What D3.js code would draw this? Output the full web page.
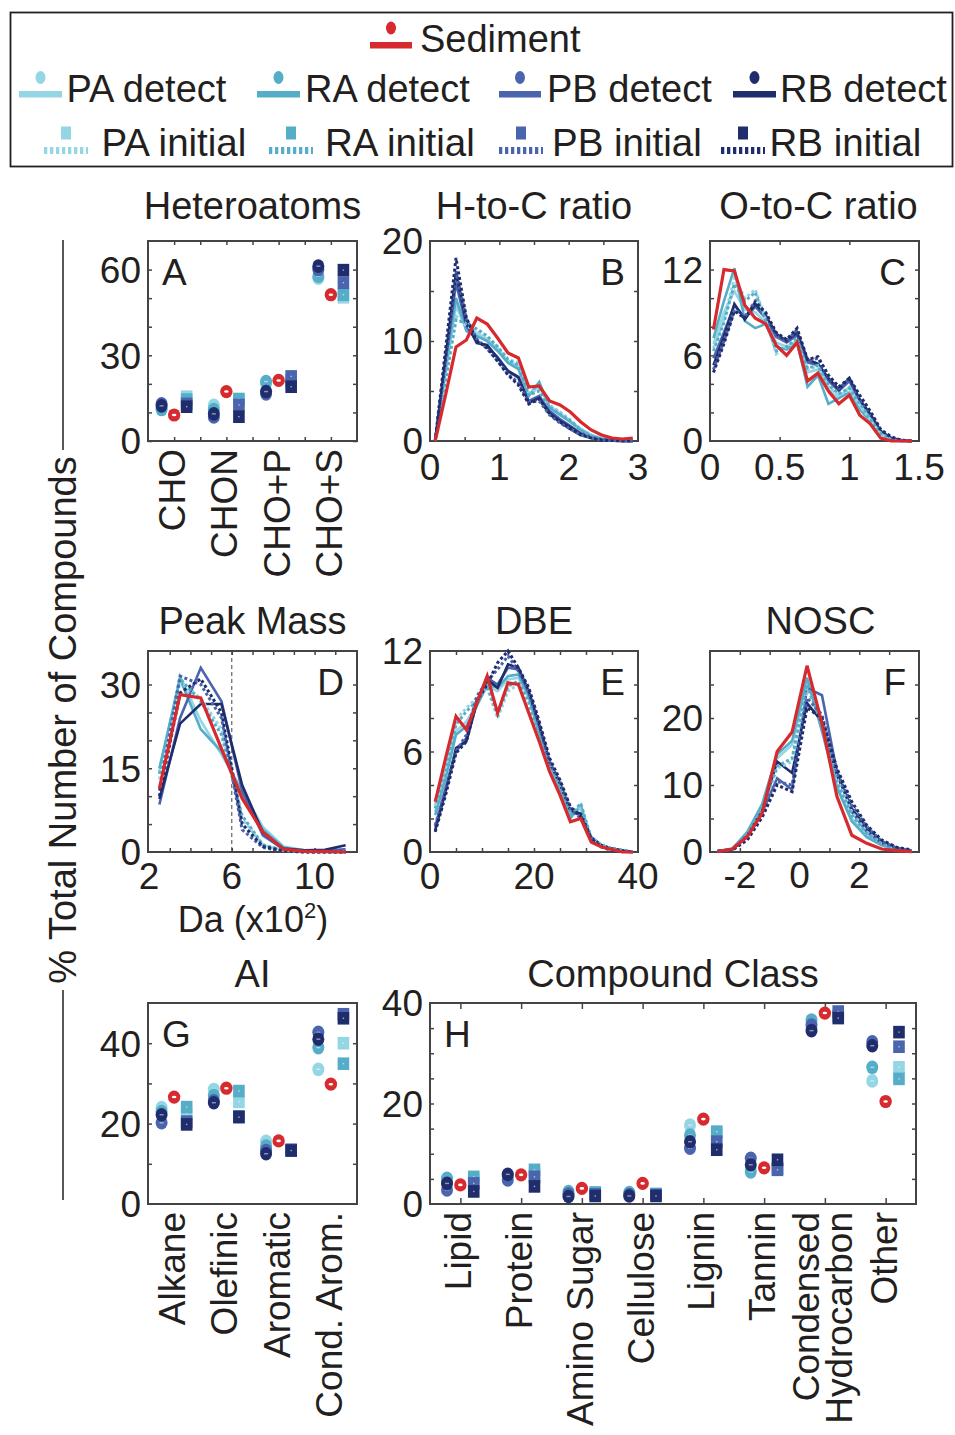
<!DOCTYPE html>
<html>
<head>
<meta charset="utf-8">
<script src="https://cdn.jsdelivr.net/npm/d3@7"></script>
<style>
  body { margin: 0; background: #fff; }
  svg { display: block; font-family: "Liberation Sans", Arial, Helvetica, sans-serif; }
</style>
</head>
<body>
<svg id="fig" width="955" height="1435"></svg>
<script>
// ---- data ----
// series order in every detect/initial list: PA, RA, PB, RB

const hetCats = ["CHO", "CHON", "CHO+P", "CHO+S"];
const hetSediment = [9.1, 17.3, 21.2, 51.2];
const hetDetect = [
  [11.5, 12.5, 20.0, 57.0],
  [11.0, 11.0, 20.8, 57.7],
  [13.0, 8.4, 16.5, 60.0],
  [12.3, 9.5, 17.3, 61.2]
];
const hetInitial = [
  [15.5, 14.0, 21.0, 50.3],
  [14.5, 14.7, 21.0, 51.2],
  [13.0, 12.6, 22.6, 55.4],
  [12.0, 8.5, 19.0, 59.8]
];

const hcBins = [0.075, 0.225, 0.375, 0.525, 0.675, 0.825, 0.975, 1.125, 1.275, 1.425,
  1.575, 1.725, 1.875, 2.025, 2.175, 2.325, 2.475, 2.625, 2.775, 2.925];
const hcSediment = [0, 4.6, 9.4, 10.1, 12.3, 11.7, 10.3, 8.8, 8.3, 5.4, 5.5, 4.0, 3.6, 2.9, 1.9, 1.1, 0.6, 0.3, 0.2, 0.3];
const hcDetect = [
  [0, 6.8, 13.5, 11.2, 10.8, 10.2, 9.3, 8.0, 7.5, 4.6, 5.5, 3.5, 2.8, 2.0, 1.2, 0.6, 0.3, 0.1, 0.05, 0],
  [0, 7.2, 14.3, 11.0, 10.5, 10.0, 9.0, 7.8, 7.2, 4.5, 5.9, 3.3, 2.6, 1.9, 1.1, 0.5, 0.2, 0.1, 0.05, 0],
  [0, 7.9, 15.8, 11.5, 10.0, 9.4, 8.4, 7.0, 6.3, 4.0, 4.5, 3.0, 2.2, 1.5, 0.8, 0.4, 0.2, 0.1, 0.05, 0],
  [0, 8.4, 16.8, 11.8, 9.8, 9.6, 8.3, 7.0, 6.4, 3.8, 4.3, 2.8, 2.0, 1.4, 0.7, 0.3, 0.1, 0.05, 0, 0]
];
const hcInitial = [
  [0, 6.2, 12.5, 11.5, 11.0, 10.4, 9.5, 8.2, 7.8, 4.8, 5.2, 3.6, 2.9, 2.1, 1.2, 0.6, 0.3, 0.1, 0.05, 0],
  [0, 6.0, 12.1, 11.8, 11.2, 10.5, 9.4, 8.1, 7.6, 4.6, 5.0, 3.4, 2.7, 2.0, 1.1, 0.5, 0.2, 0.1, 0.05, 0],
  [0, 8.5, 17.0, 12.2, 10.2, 9.2, 8.0, 6.7, 5.8, 3.9, 4.0, 2.6, 1.8, 1.2, 0.6, 0.3, 0.1, 0.05, 0, 0],
  [0, 9.2, 18.3, 12.3, 10.0, 9.3, 8.0, 6.6, 5.6, 3.7, 4.2, 2.7, 1.9, 1.2, 0.6, 0.3, 0.1, 0.05, 0, 0]
];

const ocBins = [0.025, 0.1, 0.175, 0.25, 0.325, 0.4, 0.475, 0.55, 0.625, 0.7,
  0.775, 0.85, 0.925, 1.0, 1.075, 1.15, 1.225, 1.3, 1.375, 1.45];
const ocSediment = [7.8, 12.0, 11.9, 9.5, 8.6, 8.2, 6.7, 6.0, 6.9, 4.2, 4.75, 3.5, 2.6, 3.2, 1.8, 1.2, 0.2, 0, 0, 0];
const ocDetect = [
  [6.8, 9.0, 10.5, 9.2, 9.0, 8.3, 6.9, 6.6, 7.0, 4.8, 5.0, 3.6, 3.0, 3.8, 2.6, 1.6, 0.6, 0.2, 0.05, 0],
  [7.2, 9.8, 12.1, 8.4, 7.9, 8.2, 6.6, 6.4, 6.9, 3.8, 4.6, 2.6, 3.0, 3.4, 2.2, 1.4, 0.5, 0.1, 0, 0],
  [5.8, 7.6, 9.5, 8.6, 9.4, 8.6, 7.3, 6.9, 7.4, 5.5, 5.3, 4.2, 3.5, 4.2, 2.8, 1.8, 0.7, 0.2, 0.05, 0],
  [5.3, 7.3, 9.6, 8.5, 9.6, 8.8, 7.5, 7.0, 7.6, 5.7, 5.4, 4.4, 3.6, 4.4, 2.9, 1.9, 0.7, 0.2, 0.05, 0]
];
const ocInitial = [
  [6.5, 8.5, 11.4, 10.0, 10.6, 8.5, 6.1, 6.6, 7.0, 5.0, 5.2, 3.8, 3.2, 3.6, 2.5, 1.5, 0.5, 0.1, 0, 0],
  [6.3, 8.3, 11.0, 9.8, 10.4, 8.4, 6.3, 6.6, 7.2, 5.1, 5.3, 3.9, 3.3, 3.7, 2.6, 1.6, 0.6, 0.1, 0, 0],
  [5.0, 7.0, 9.2, 8.7, 9.8, 8.9, 7.4, 7.0, 7.8, 5.6, 5.8, 4.5, 3.7, 4.3, 3.0, 2.0, 0.8, 0.2, 0.05, 0],
  [4.8, 6.8, 9.1, 8.6, 9.7, 9.0, 7.6, 7.1, 7.9, 5.7, 5.9, 4.6, 3.8, 4.4, 3.2, 2.1, 0.8, 0.3, 0.05, 0]
];

const massBins = [2.5, 3.5, 4.5, 5.5, 6.5, 7.5, 8.5, 9.5, 10.5, 11.5];
const massSediment = [11.4, 28.2, 27.6, 18.5, 9.6, 3.6, 0.5, 0.1, 0.1, 0];
const massDetect = [
  [14.5, 31.5, 23.5, 17.5, 11.0, 4.5, 1.0, 0.3, 0.2, 0.1],
  [15.0, 31.0, 22.0, 18.0, 10.5, 4.0, 0.8, 0.3, 0.2, 0.1],
  [8.5, 24.0, 33.0, 27.0, 11.0, 3.0, 0.5, 0.2, 0.3, 0.5],
  [9.5, 23.0, 26.5, 26.5, 12.0, 3.5, 0.6, 0.3, 0.4, 1.2]
];
const massInitial = [
  [13.0, 30.5, 27.5, 22.0, 6.0, 1.2, 0.3, 0.1, 0, 0],
  [14.0, 31.0, 27.0, 21.0, 6.5, 1.3, 0.3, 0.1, 0, 0],
  [11.0, 31.5, 30.0, 24.0, 4.0, 0.8, 0.2, 0, 0, 0],
  [10.0, 28.5, 31.0, 25.0, 5.0, 1.0, 0.2, 0, 0, 0]
];

const dbeBins = [1, 3, 5, 7, 9, 11, 13, 15, 17, 19, 21, 23, 25, 27, 29, 31, 33, 35, 37, 39];
const dbeSediment = [3.0, 5.6, 8.1, 7.3, 8.9, 10.5, 8.3, 10.1, 10.0, 8.3, 6.6, 4.8, 3.4, 1.8, 2.0, 0.6, 0.3, 0.15, 0, 0];
const dbeDetect = [
  [2.4, 4.6, 7.2, 7.8, 8.8, 9.9, 9.6, 10.3, 10.4, 9.2, 7.2, 5.0, 3.8, 2.3, 2.6, 0.8, 0.4, 0.2, 0.1, 0],
  [2.2, 4.4, 7.0, 7.5, 8.7, 10.0, 9.8, 10.5, 10.6, 9.3, 7.0, 4.8, 3.6, 2.0, 2.8, 0.7, 0.4, 0.2, 0.1, 0],
  [1.5, 3.8, 6.0, 6.8, 9.0, 10.4, 10.0, 11.0, 10.9, 9.5, 7.5, 5.3, 4.0, 2.4, 2.2, 0.8, 0.4, 0.2, 0.1, 0],
  [1.3, 3.6, 6.2, 6.6, 8.9, 10.3, 9.8, 11.2, 11.0, 9.6, 7.6, 5.4, 4.1, 2.5, 2.3, 0.9, 0.4, 0.2, 0.1, 0]
];
const dbeInitial = [
  [2.8, 5.0, 7.9, 8.6, 9.2, 9.8, 8.0, 9.6, 10.0, 8.8, 6.8, 5.5, 3.9, 2.4, 2.7, 0.9, 0.4, 0.2, 0.1, 0],
  [2.6, 4.8, 7.6, 8.4, 9.0, 9.9, 8.2, 9.9, 10.2, 9.0, 6.9, 5.4, 3.8, 2.2, 2.9, 0.8, 0.4, 0.2, 0.1, 0],
  [1.6, 3.7, 6.0, 7.0, 9.3, 10.2, 10.9, 11.7, 10.8, 9.6, 7.6, 5.4, 4.2, 2.6, 2.0, 0.8, 0.3, 0.1, 0.05, 0],
  [1.2, 3.4, 5.9, 6.6, 9.0, 10.0, 11.3, 12.0, 11.0, 9.8, 7.8, 5.6, 4.3, 2.7, 2.1, 0.8, 0.3, 0.1, 0.05, 0]
];

const noscBins = [-2.75, -2.25, -1.75, -1.25, -0.75, -0.25, 0.25, 0.75, 1.25, 1.75, 2.25, 2.75, 3.25, 3.75];
const noscSediment = [0.05, 0.45, 2.3, 5.8, 15.0, 17.9, 27.8, 19.2, 8.3, 2.5, 1.3, 0.45, 0.2, 0.05];
const noscDetect = [
  [0.1, 0.4, 2.8, 6.8, 14.0, 16.0, 25.5, 18.5, 10.0, 5.0, 2.5, 1.2, 0.5, 0.2],
  [0.1, 0.5, 3.0, 7.2, 14.6, 16.6, 26.0, 18.0, 9.6, 4.6, 2.2, 1.0, 0.4, 0.2],
  [0.1, 0.4, 2.5, 6.0, 11.0, 9.3, 24.5, 23.4, 12.0, 6.0, 3.0, 1.3, 0.6, 0.2],
  [0.1, 0.4, 2.4, 6.2, 13.5, 11.8, 22.2, 19.5, 11.5, 6.5, 3.5, 1.5, 0.6, 0.2]
];
const noscInitial = [
  [0.1, 0.4, 2.6, 6.5, 12.5, 13.5, 24.5, 19.5, 11.0, 6.0, 3.0, 1.3, 0.5, 0.2],
  [0.1, 0.4, 2.7, 6.6, 12.8, 14.0, 25.0, 19.0, 10.5, 5.5, 2.8, 1.2, 0.5, 0.2],
  [0.1, 0.3, 2.0, 5.5, 10.5, 10.0, 23.0, 20.5, 12.0, 7.0, 3.8, 1.6, 0.6, 0.2],
  [0.1, 0.3, 1.8, 5.2, 10.0, 9.0, 21.5, 20.0, 12.5, 7.5, 4.0, 1.8, 0.7, 0.3]
];

const aiCats = ["Alkane", "Olefinic", "Aromatic", "Cond. Arom."];
const aiSediment = [26.6, 28.8, 15.7, 29.8];
const aiDetect = [
  [24.0, 28.5, 15.6, 33.5],
  [23.0, 27.0, 14.4, 38.9],
  [20.2, 25.7, 13.3, 42.7],
  [22.2, 25.2, 12.5, 41.0]
];
const aiInitial = [
  [22.5, 25.4, 13.3, 40.0],
  [24.1, 28.1, 13.3, 34.9],
  [20.5, 21.8, 13.5, 47.2],
  [19.8, 21.6, 13.3, 46.2]
];

const classCats = ["Lipid", "Protein", "Amino Sugar", "Cellulose", "Lignin", "Tannin", "Condensed\nHydrocarbon", "Other"];
const classSediment = [3.8, 5.8, 3.1, 4.1, 16.9, 7.2, 38.0, 20.4];
const classDetect = [
  [4.2, 5.5, 2.0, 2.0, 15.7, 7.0, 36.0, 24.5],
  [5.1, 5.6, 2.5, 2.3, 13.7, 6.4, 36.6, 27.2],
  [2.8, 4.8, 2.0, 1.9, 11.1, 9.1, 35.6, 32.3],
  [4.1, 5.9, 1.5, 1.6, 12.4, 7.8, 34.5, 31.5]
];
const classInitial = [
  [5.0, 6.0, 2.0, 1.8, 14.0, 7.2, 37.5, 27.2],
  [5.4, 6.8, 2.3, 2.0, 14.4, 7.0, 37.5, 24.9],
  [4.1, 5.4, 1.9, 1.8, 12.4, 6.8, 38.3, 31.3],
  [2.5, 3.5, 1.6, 1.6, 10.8, 8.8, 37.0, 34.2]
];

// ---- styling ----
const groupColors = ["#94d6e4", "#56adc8", "#4a64ae", "#202d6c"];
const sedColor = "#d62a2e";
const axisColor = "#444";
const ink = "#231f20";

const svg = d3.select("#fig");

function drawPanel(p) {
  const x = d3.scaleLinear().domain(p.xDomain).range([p.x0, p.x1]);
  const y = d3.scaleLinear().domain(p.yDomain).range([p.y1, p.y0]);
  const g = svg.append("g");

  const ticks = (axis, tr) => {
    const a = g.append("g").attr("transform", tr).call(axis);
    a.select(".domain").remove();
    a.selectAll("text").remove();
    a.selectAll("line").attr("stroke", axisColor).attr("stroke-width", 1.5);
  };
  ticks(d3.axisLeft(y).tickValues(p.yTicks).tickSize(-4), `translate(${p.x0},0)`);
  ticks(d3.axisRight(y).tickValues(p.yTicks).tickSize(-4), `translate(${p.x1},0)`);
  if (p.xTicks) {
    const len = p.xTickLen || 4;
    ticks(d3.axisBottom(x).tickValues(p.xTicks).tickSize(-len), `translate(0,${p.y1})`);
    ticks(d3.axisTop(x).tickValues(p.xTicks).tickSize(-len), `translate(0,${p.y0})`);
  }

  g.append("rect")
    .attr("x", p.x0).attr("y", p.y0)
    .attr("width", p.x1 - p.x0).attr("height", p.y1 - p.y0)
    .attr("fill", "none").attr("stroke", axisColor).attr("stroke-width", 2);

  g.selectAll(null).data(p.yLabels).join("text")
    .attr("x", p.x0 - 7).attr("y", d => y(d)).attr("dy", "0.36em")
    .attr("text-anchor", "end").attr("font-size", 37).attr("fill", ink)
    .text(d => d);

  if (p.xLabels) {
    g.selectAll(null).data(p.xLabels).join("text")
      .attr("x", d => x(d)).attr("y", p.y1 + (p.xLabelGap || 39))
      .attr("text-anchor", "middle").attr("font-size", 37).attr("fill", ink)
      .text(d => String(d));
  }

  if (p.cats) {
    p.cats.forEach((c, i) => {
      const lines = c.split("\n");
      const cx = x(i + 1);
      lines.forEach((ln, j) => {
        const bx = cx + 11 + (j - (lines.length - 1) / 2) * 33;
        g.append("text")
          .attr("transform", `translate(${bx},${p.y1 + 8}) rotate(-90)`)
          .attr("text-anchor", "end").attr("font-size", 37).attr("fill", ink)
          .text(ln);
      });
    });
  }

  g.append("text")
    .attr("x", (p.x0 + p.x1) / 2 + (p.titleDx || 0)).attr("y", p.titleY)
    .attr("text-anchor", "middle").attr("font-size", 38).attr("fill", ink)
    .text(p.title);

  const lx = p.letterRight ? p.x1 - 13 : p.x0 + 14;
  g.append("text")
    .attr("x", lx).attr("y", p.y0 + 44)
    .attr("text-anchor", p.letterRight ? "end" : "start")
    .attr("font-size", 37).attr("fill", ink)
    .text(p.letter);

  return { g, x, y };
}

function drawLines(pp, bins, detect, initial, sediment) {
  const line = vals => d3.line()
    .x((d, i) => pp.x(bins[i]))
    .y(d => pp.y(d))(vals);
  detect.forEach((vals, k) => {
    pp.g.append("path").attr("d", line(vals))
      .attr("fill", "none").attr("stroke", groupColors[k]).attr("stroke-width", 2.6);
  });
  initial.forEach((vals, k) => {
    pp.g.append("path").attr("d", line(vals))
      .attr("fill", "none").attr("stroke", groupColors[k]).attr("stroke-width", 3)
      .attr("stroke-dasharray", "3,2.5");
  });
  pp.g.append("path").attr("d", line(sediment))
    .attr("fill", "none").attr("stroke", sedColor).attr("stroke-width", 3.2);
}

function circleMark(g, cx, cy, color) {
  g.append("ellipse").attr("cx", cx).attr("cy", cy).attr("rx", 6).attr("ry", 6.8).attr("fill", color);
  g.append("rect").attr("x", cx - 2).attr("y", cy - 0.7).attr("width", 4).attr("height", 1.4)
    .attr("fill", "#fff").attr("opacity", 0.5);
}

function squareMark(g, cx, cy, color) {
  g.append("rect").attr("x", cx - 5.8).attr("y", cy - 6.3).attr("width", 11.6).attr("height", 12.6).attr("fill", color);
  g.append("rect").attr("x", cx - 0.7).attr("y", cy - 0.7).attr("width", 1.4).attr("height", 1.4)
    .attr("fill", "#fff").attr("opacity", 0.6);
}

function sedMark(g, cx, cy) {
  g.append("ellipse").attr("cx", cx).attr("cy", cy).attr("rx", 6.2).attr("ry", 6.6).attr("fill", sedColor);
  g.append("ellipse").attr("cx", cx).attr("cy", cy).attr("rx", 2.3).attr("ry", 1.3).attr("fill", "#fff");
}

function drawScatter(pp, detect, initial, sediment, off) {
  detect.forEach((vals, k) => vals.forEach((v, i) => circleMark(pp.g, pp.x(i + 1 - off), pp.y(v), groupColors[k])));
  initial.forEach((vals, k) => vals.forEach((v, i) => squareMark(pp.g, pp.x(i + 1 + off), pp.y(v), groupColors[k])));
  sediment.forEach((v, i) => sedMark(pp.g, pp.x(i + 1), pp.y(v)));
}

// ---- panels ----
const pA = drawPanel({
  x0: 148, x1: 357, y0: 241, y1: 441, xDomain: [0.5, 4.5], yDomain: [0, 70],
  yTicks: d3.range(0, 70, 10), yLabels: [0, 30, 60],
  xTicks: [1, 1.5, 2, 2.5, 3, 3.5, 4], cats: hetCats,
  title: "Heteroatoms", titleY: 219, letter: "A"
});
drawScatter(pA, hetDetect, hetInitial, hetSediment, 0.24);

const pB = drawPanel({
  x0: 430, x1: 638, y0: 241, y1: 441, xDomain: [0, 3], yDomain: [0, 20],
  yTicks: [5, 10, 15], yLabels: [0, 10, 20],
  xTicks: [0.5, 1, 1.5, 2, 2.5], xLabels: [0, 1, 2, 3],
  title: "H-to-C ratio", titleY: 219, letter: "B", letterRight: true
});
drawLines(pB, hcBins, hcDetect, hcInitial, hcSediment);

const pC = drawPanel({
  x0: 710, x1: 919, y0: 241, y1: 441, xDomain: [0, 1.5], yDomain: [0, 14],
  yTicks: [2, 4, 6, 8, 10, 12], yLabels: [0, 6, 12],
  xTicks: [0.5, 1], xLabels: [0, 0.5, 1, 1.5],
  title: "O-to-C ratio", titleY: 219, titleDx: 4, letter: "C", letterRight: true
});
drawLines(pC, ocBins, ocDetect, ocInitial, ocSediment);

const pD = drawPanel({
  x0: 148, x1: 357, y0: 651, y1: 852, xDomain: [1.95, 12.05], yDomain: [0, 36],
  yTicks: [5, 10, 15, 20, 25, 30], yLabels: [0, 15, 30],
  xTicks: [3, 4, 5, 6, 7, 8, 9, 10, 11], xLabels: [2, 6, 10], xLabelGap: 37,
  title: "Peak Mass", titleY: 634, letter: "D", letterRight: true
});
pD.g.append("line")
  .attr("x1", pD.x(6)).attr("x2", pD.x(6)).attr("y1", 651).attr("y2", 852)
  .attr("stroke", axisColor).attr("stroke-width", 1).attr("stroke-dasharray", "4,3");
drawLines(pD, massBins, massDetect, massInitial, massSediment);
const daLabel = pD.g.append("text").attr("x", 253).attr("y", 932)
  .attr("text-anchor", "middle").attr("font-size", 36).attr("fill", ink);
daLabel.append("tspan").text("Da (x10");
daLabel.append("tspan").attr("font-size", 22).attr("dy", -14).text("2");
daLabel.append("tspan").attr("dy", 14).text(")");

const pE = drawPanel({
  x0: 430, x1: 638, y0: 651, y1: 852, xDomain: [0, 40], yDomain: [0, 12],
  yTicks: [2, 4, 6, 8, 10], yLabels: [0, 6, 12],
  xTicks: [5, 10, 15, 20, 25, 30, 35], xLabels: [0, 20, 40], xLabelGap: 37,
  title: "DBE", titleY: 634, letter: "E", letterRight: true
});
drawLines(pE, dbeBins, dbeDetect, dbeInitial, dbeSediment);

const pF = drawPanel({
  x0: 710, x1: 919, y0: 651, y1: 852, xDomain: [-3, 4], yDomain: [0, 30],
  yTicks: [5, 10, 15, 20, 25], yLabels: [0, 10, 20],
  xTicks: [-2, -1, 0, 1, 2, 3], xLabels: [-2, 0, 2], xLabelGap: 36,
  title: "NOSC", titleY: 634, titleDx: 6, letter: "F", letterRight: true
});
drawLines(pF, noscBins, noscDetect, noscInitial, noscSediment);

const pG = drawPanel({
  x0: 148, x1: 357, y0: 1003, y1: 1204, xDomain: [0.5, 4.5], yDomain: [0, 50],
  yTicks: [10, 20, 30, 40], yLabels: [0, 20, 40], cats: aiCats,
  title: "AI", titleY: 987, letter: "G"
});
drawScatter(pG, aiDetect, aiInitial, aiSediment, 0.24);

const pH = drawPanel({
  x0: 430, x1: 916, y0: 1003, y1: 1204, xDomain: [0.5, 8.5], yDomain: [0, 40],
  yTicks: [5, 10, 15, 20, 25, 30, 35], yLabels: [0, 20, 40],
  xTicks: [1, 2, 3, 4, 5, 6, 7, 8], xTickLen: 6, cats: classCats,
  title: "Compound Class", titleY: 987, letter: "H"
});
drawScatter(pH, classDetect, classInitial, classSediment, 0.22);

// ---- shared y label ----
svg.append("text")
  .attr("transform", "translate(76,720) rotate(-90)")
  .attr("text-anchor", "middle").attr("font-size", 38).attr("fill", ink)
  .text("% Total Number of Compounds");
svg.append("line").attr("x1", 63).attr("x2", 63).attr("y1", 240).attr("y2", 450)
  .attr("stroke", ink).attr("stroke-width", 1.5);
svg.append("line").attr("x1", 63).attr("x2", 63).attr("y1", 990).attr("y2", 1200)
  .attr("stroke", ink).attr("stroke-width", 1.5);

// ---- legend ----
const leg = svg.append("g");
leg.append("rect").attr("x", 10.5).attr("y", 12.5).attr("width", 942).attr("height", 154)
  .attr("fill", "#fff").attr("stroke", ink).attr("stroke-width", 1.8);

leg.append("rect").attr("x", 370).attr("y", 42).attr("width", 42).attr("height", 6.5).attr("fill", sedColor);
leg.append("ellipse").attr("cx", 391).attr("cy", 28).attr("rx", 5).attr("ry", 6.5).attr("fill", sedColor);
leg.append("text").attr("x", 420).attr("y", 52).attr("font-size", 38).attr("fill", ink).text("Sediment");

const detectNames = ["PA detect", "RA detect", "PB detect", "RB detect"];
const detectPos = [[19, 62, 66.5], [257, 300, 305], [499, 541, 547], [733, 776, 780]];
detectNames.forEach((name, k) => {
  const [a, b, t] = detectPos[k];
  leg.append("rect").attr("x", a).attr("y", 91).attr("width", b - a).attr("height", 6.5).attr("fill", groupColors[k]);
  leg.append("ellipse").attr("cx", (a + b) / 2).attr("cy", 77.5).attr("rx", 5).attr("ry", 6.5).attr("fill", groupColors[k]);
  leg.append("text").attr("x", t).attr("y", 102).attr("font-size", 38).attr("fill", ink).text(name);
});

const initialNames = ["PA initial", "RA initial", "PB initial", "RB initial"];
const initialPos = [[44, 88, 101.5], [269, 313, 325], [499, 543, 552], [721, 765, 769.5]];
initialNames.forEach((name, k) => {
  const [a, b, t] = initialPos[k];
  leg.append("line").attr("x1", a).attr("x2", b).attr("y1", 150.5).attr("y2", 150.5)
    .attr("stroke", groupColors[k]).attr("stroke-width", 7).attr("stroke-dasharray", "3.3,2.7");
  leg.append("rect").attr("x", (a + b) / 2 - 5).attr("y", 126.5).attr("width", 10).attr("height", 13).attr("fill", groupColors[k]);
  leg.append("text").attr("x", t).attr("y", 156).attr("font-size", 38.5).attr("fill", ink).text(name);
});
</script>
</body>
</html>
